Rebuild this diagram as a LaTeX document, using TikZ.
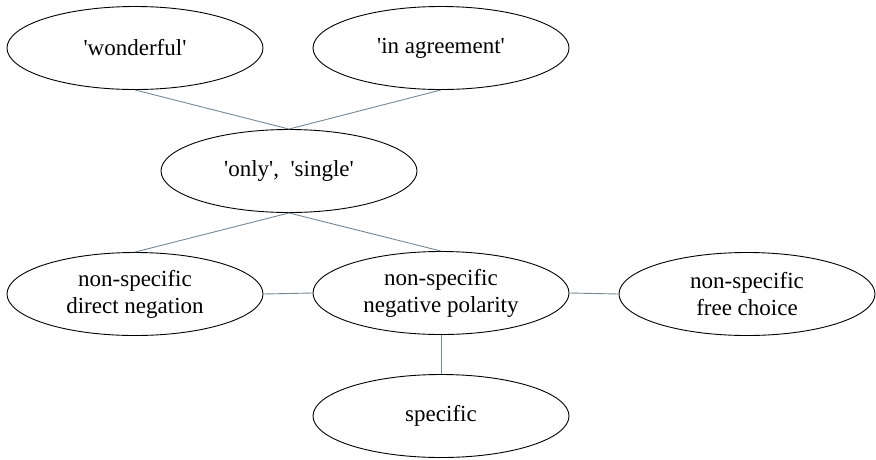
\documentclass[tikz,border=0pt]{standalone}
\usepackage{fontspec}
\setmainfont{Liberation Serif}
\usetikzlibrary{shapes.geometric}
\newcommand{\sq}{\textquotesingle}
\begin{document}
\begin{tikzpicture}[x=1pt,y=-1pt,
  oval/.style={ellipse,draw=black,line width=0.9pt,minimum width=256pt,minimum height=83pt,inner sep=0pt,align=center,font=\fontsize{23}{27}\selectfont},
  link/.style={draw=black!45!cyan!40!gray,line width=0.9pt}]
\useasboundingbox (0,0) rectangle (876,459);
\node[oval] (w) at (135,48) {\sq wonderful\sq};
\node[oval] (a) at (441,48) {\sq in agreement\sq};
\node[oval] (o) at (289,171) {\sq only\sq, \ \sq single\sq};
\node[oval] (d) at (135,294) {non-specific\\direct negation};
\node[oval] (n) at (441,293) {non-specific\\negative polarity};
\node[oval] (f) at (747,294) {non-specific\\free choice};
\node[oval] (s) at (441,416) {specific};
\draw[link] (w.south) -- (o.north);
\draw[link] (a.south) -- (o.north);
\draw[link] (o.south) -- (d.north);
\draw[link] (o.south) -- (n.north);
\draw[link] (d.east) -- (n.west);
\draw[link] (n.east) -- (f.west);
\draw[link] (n.south) -- (s.north);
\end{tikzpicture}
\end{document}
